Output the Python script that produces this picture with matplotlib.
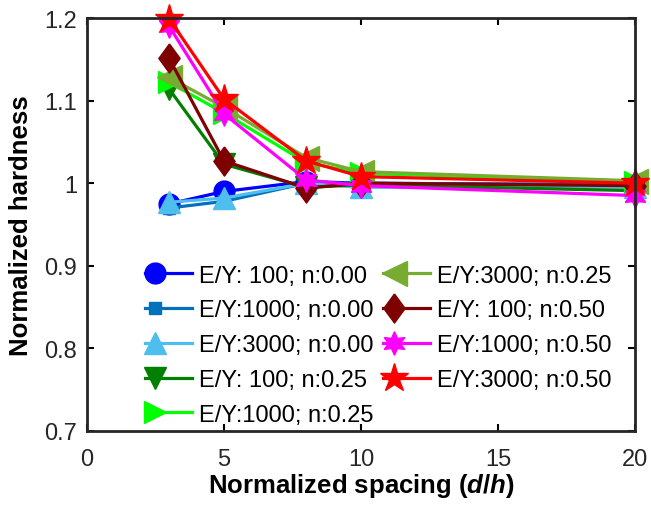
import matplotlib
matplotlib.use("Agg")
from matplotlib import pyplot as plt
from matplotlib.lines import Line2D
from matplotlib.legend_handler import HandlerLine2D

# Data

spacing = [3, 5, 8, 10, 20]

labels = ["E/Y: 100; n:0.00", "E/Y:1000; n:0.00", "E/Y:3000; n:0.00",
          "E/Y: 100; n:0.25", "E/Y:1000; n:0.25", "E/Y:3000; n:0.25",
          "E/Y: 100; n:0.50", "E/Y:1000; n:0.50", "E/Y:3000; n:0.50"]

h_100_000 = [0.975, 0.990, 1.002, 1.000, 0.998]
h_1000_000 = [0.970, 0.978, 1.000, 1.000, 0.998]
h_3000_000 = [0.977, 0.982, 1.000, 0.995, 0.995]
h_100_025 = [1.114, 1.023, 0.995, 0.998, 0.991]
h_1000_025 = [1.122, 1.085, 1.025, 1.012, 1.002]
h_3000_025 = [1.128, 1.092, 1.031, 1.014, 1.003]
h_100_050 = [1.151, 1.027, 0.994, 1.000, 0.997]
h_1000_050 = [1.190, 1.084, 1.004, 0.997, 0.985]
h_3000_050 = [1.199, 1.102, 1.027, 1.008, 1.000]

x_ticks = [0, 5, 10, 15, 20]
y_ticks = [0.7, 0.8, 0.9, 1.0, 1.1, 1.2]
y_tick_labels = ["0.7", "0.8", "0.9", "1", "1.1", "1.2"]

series = [h_100_000, h_1000_000, h_3000_000,
          h_100_025, h_1000_025, h_3000_025,
          h_100_050, h_1000_050, h_3000_050]

# Marker, colour and size for each series
colors = ["#0000ff", "#0072bd", "#4dbeee",
          "#008000", "#00ff00", "#77ac30",
          "#7f0000", "#ff00ff", "#ff0000"]
diamond = [(0, 1), (0.73, 0), (0, -1), (-0.73, 0), (0, 1)]
markers = ["o", "s", "^", "v", ">", "<", diamond, (6, 1, 0), "*"]
sizes = [15, 9, 16, 16, 16, 18, 21, 17, 21]

plt.rcParams["font.family"] = ["Liberation Sans", "DejaVu Sans"]
plt.rcParams["mathtext.fontset"] = "custom"
plt.rcParams["mathtext.it"] = "Liberation Sans:bold:italic"
plt.rcParams["mathtext.rm"] = "Liberation Sans:bold"


class LeftMarker(HandlerLine2D):
    # legend line with the marker near its left end
    def create_artists(self, legend, orig_handle, xdescent, ydescent,
                       width, height, fontsize, trans):
        x0 = -xdescent
        xdata = [x0, x0 + 0.23 * width, x0 + width]
        yc = (height - ydescent) / 2
        line = Line2D(xdata, [yc] * 3, markevery=[1])
        self.update_prop(line, orig_handle, legend)
        line.set_transform(trans)
        return [line]


fig = plt.figure(figsize=(6.51, 5.10), dpi=100)
ax = fig.add_axes([0.1336, 0.153, 0.8418, 0.8097])

for vals, lab, c, m, s in zip(series, labels, colors, markers, sizes):
    ax.plot(spacing, vals, color=c, marker=m, markersize=s,
            markerfacecolor=c, markeredgecolor=c, markeredgewidth=1,
            linewidth=2.3, label=lab, clip_on=False)

ax.set_xlim(0, 20)
ax.set_ylim(0.7, 1.2)
ax.set_xticks(x_ticks)
ax.set_yticks(y_ticks)
ax.set_yticklabels(y_tick_labels)
ax.tick_params(direction="in", top=True, right=True, length=5, width=1.5,
               labelsize=17, labelcolor="#262626")
ax.tick_params(axis="x", pad=12)
ax.tick_params(axis="y", pad=7)
for sp in ax.spines.values():
    sp.set_linewidth(2)
    sp.set_color("#262626")

ax.set_xlabel(r"Normalized spacing ($\it{d/h}$)", fontsize=18.5,
              fontweight="bold", labelpad=1)
ax.set_ylabel("Normalized hardness", fontsize=18.5, fontweight="bold",
              labelpad=8)

ax.legend(loc="upper left", bbox_to_anchor=(0.105, 0.403), ncol=2,
          frameon=False, fontsize=17, borderpad=0, borderaxespad=0,
          handlelength=2.0, handletextpad=0.3, columnspacing=0.4,
          labelspacing=0.54, numpoints=1,
          handler_map={Line2D: LeftMarker()})

fig.savefig("out.png", dpi=100)
